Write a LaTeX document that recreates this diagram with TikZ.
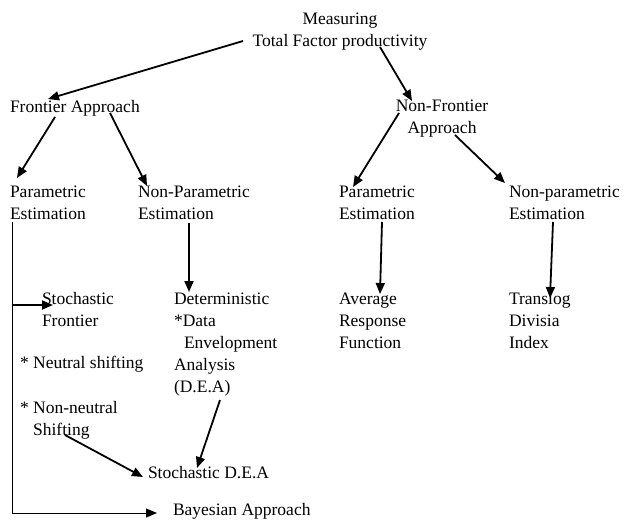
\documentclass[tikz,border=0pt]{standalone}
\usepackage{fontspec}
\setmainfont{Liberation Serif}
\usetikzlibrary{arrows.meta}
\begin{document}
\begin{tikzpicture}[x=1pt,y=-1pt,
  txt/.style={inner sep=0pt,outer sep=0pt,font=\fontsize{17.5}{22}\selectfont,align=left,anchor=base west},
  ctxt/.style={txt,align=center,anchor=base},
  arr/.style={line width=1.8pt,-{Triangle[length=11pt,width=9pt]}},
  thinarr/.style={line width=1pt,-{Triangle[length=11pt,width=9pt]}}]
\useasboundingbox (0,0) rectangle (624,525);

% anchors are at the baseline of the last line
\node[ctxt] (m) at (340,46) {Measuring\\Total Factor productivity};
\node[txt] (fa) at (10,112) {Frontier Approach};
\node[ctxt] (nf) at (442,133) {Non-Frontier\\Approach};
\node[txt] (pe) at (10,219) {Parametric\\Estimation};
\node[txt] (npe) at (138,219) {Non-Parametric\\Estimation};
\node[txt] (pe2) at (339,219) {Parametric\\Estimation};
\node[txt] (npe2) at (509,219) {Non-parametric\\Estimation};
\node[txt] (sf) at (42,326) {Stochastic\\Frontier};
\node[txt] (det) at (174,392) {Deterministic\\*Data\\\hspace{10pt}Envelopment\\Analysis\\(D.E.A)};
\node[txt] (ns) at (20,368) {* Neutral shifting};
\node[txt] (nns) at (20,435) {* Non-neutral\\\phantom{* }Shifting};
\node[txt] (sdea) at (148,478) {Stochastic D.E.A};
\node[txt] (ba) at (173,515) {Bayesian Approach};
\node[txt] (arf) at (339,348) {Average\\Response\\Function};
\node[txt] (tdi) at (509,348) {Translog\\Divisia\\Index};

\coordinate (br) at ([shift={(2,86)}]pe.base west);

\draw[arr] ([shift={(-97,-5)}]m.base) -- ([shift={(38,-13)}]fa.base west);
\draw[arr] ([shift={(40,1)}]m.base) -- ([shift={(-30,-32)}]nf.base);
\draw[arr] ([shift={(45,5)}]fa.base west) -- ([shift={(7,-41)}]pe.base west);
\draw[arr] ([shift={(100,1)}]fa.base west) -- ([shift={(9,-33)}]npe.base west);
\draw[arr] ([shift={(-43,-20)}]nf.base) -- ([shift={(14,-32)}]pe2.base west);
\draw[arr] ([shift={(13,2)}]nf.base) -- ([shift={(-4,-36)}]npe2.base west);
\draw[arr] ([shift={(51,4)}]npe.base west) -- ([shift={(15,-100)}]det.base west);
\draw[arr] ([shift={(43,3)}]pe2.base west) -- ([shift={(41,-54)}]arf.base west);
\draw[arr] ([shift={(44,3)}]npe2.base west) -- ([shift={(41,-50)}]tdi.base west);
\draw[thinarr] ([shift={(2,3)}]pe.base west) |- ([shift={(-16,-2)}]ba.base west);
\draw[arr] (br) -- ([shift={(11,-21)}]sf.base west);
\draw[arr] ([shift={(45,0)}]nns.base west) -- ([shift={(-5,-1)}]sdea.base west);
\draw[arr] ([shift={(46,8)}]det.base west) -- ([shift={(49,-10)}]sdea.base west);
\end{tikzpicture}
\end{document}
